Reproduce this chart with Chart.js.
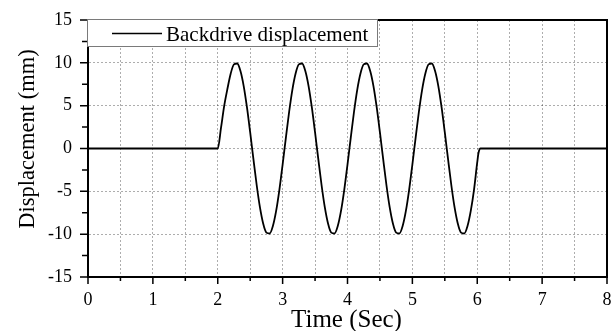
<!DOCTYPE html>
<html>
<head>
<meta charset="utf-8">
<title>Backdrive displacement</title>
<script src="https://cdn.jsdelivr.net/npm/chart.js@4.4.1/dist/chart.umd.min.js"></script>
<style>
  html, body { margin: 0; padding: 0; background: #fff; }
  #wrap { width: 613px; height: 331px; }
</style>
</head>
<body>
<div id="wrap"><canvas id="myChart" width="613" height="331"></canvas></div>
<script>
(function () {
    'use strict';

    // ── Data ───────────────────────────────────────────────────────────────────
    const TIME = [
        0,
        2.00, 2.05, 2.10, 2.15, 2.20, 2.25, 2.30, 2.35, 2.40, 2.45,
        2.50, 2.55, 2.60, 2.65, 2.70, 2.75, 2.80, 2.85, 2.90, 2.95,
        3.00, 3.05, 3.10, 3.15, 3.20, 3.25, 3.30, 3.35, 3.40, 3.45,
        3.50, 3.55, 3.60, 3.65, 3.70, 3.75, 3.80, 3.85, 3.90, 3.95,
        4.00, 4.05, 4.10, 4.15, 4.20, 4.25, 4.30, 4.35, 4.40, 4.45,
        4.50, 4.55, 4.60, 4.65, 4.70, 4.75, 4.80, 4.85, 4.90, 4.95,
        5.00, 5.05, 5.10, 5.15, 5.20, 5.25, 5.30, 5.35, 5.40, 5.45,
        5.50, 5.55, 5.60, 5.65, 5.70, 5.75, 5.80, 5.85, 5.90, 5.95,
        6.00, 6.02, 6.05,
        8
    ];
    const DISP = [
        0,
        0.00, 2.40, 5.00, 7.00, 8.76, 9.82, 9.92, 9.05, 7.29, 4.82,
        1.87, -1.25, -4.26, -6.85, -8.76, -9.82, -9.92, -9.05, -7.29, -4.82,
        -1.87, 1.25, 4.26, 6.85, 8.76, 9.82, 9.92, 9.05, 7.29, 4.82,
        1.87, -1.25, -4.26, -6.85, -8.76, -9.82, -9.92, -9.05, -7.29, -4.82,
        -1.87, 1.25, 4.26, 6.85, 8.76, 9.82, 9.92, 9.05, 7.29, 4.82,
        1.87, -1.25, -4.26, -6.85, -8.76, -9.82, -9.92, -9.05, -7.29, -4.82,
        -1.87, 1.25, 4.26, 6.85, 8.76, 9.82, 9.92, 9.05, 7.29, 4.82,
        1.87, -1.25, -4.26, -6.85, -8.76, -9.82, -9.92, -9.05, -7.29, -4.82,
        -1.60, -0.50, 0.00,
        0
    ];

    const X_TICKS = [0, 1, 2, 3, 4, 5, 6, 7, 8];
    const Y_TICKS = [-15, -10, -5, 0, 5, 10, 15];

    const SERIES_NAME = 'Backdrive displacement';
    const X_TITLE     = 'Time (Sec)';
    const Y_TITLE     = 'Displacement (mm)';

    // ── Styling ────────────────────────────────────────────────────────────────
    const FONT      = "'Liberation Serif', 'Times New Roman', serif";
    const GRID_CLR  = 'rgba(0, 0, 0, 0.32)';

    // ── Custom plugin: tick marks, frame, legend box and axis titles ───────────
    const decorPlugin = {
        id: 'decor',
        afterDraw(chart) {
            const { ctx, chartArea, scales } = chart;
            const { left, right, top, bottom } = chartArea;

            ctx.save();

            // tick marks (major longer than minor), outside the plot
            ctx.strokeStyle = '#000';
            ctx.lineWidth   = 1.5;
            ctx.beginPath();
            scales.x.ticks.forEach((t) => {
                const px  = scales.x.getPixelForValue(t.value);
                const len = X_TICKS.includes(t.value) ? 7 : 4;
                ctx.moveTo(px, bottom);
                ctx.lineTo(px, bottom + len);
            });
            scales.y.ticks.forEach((t) => {
                const py  = scales.y.getPixelForValue(t.value);
                const len = Y_TICKS.includes(t.value) ? 8 : 6;
                ctx.moveTo(left, py);
                ctx.lineTo(left - len, py);
            });
            ctx.stroke();

            // full black frame round the plot
            ctx.lineWidth = 2;
            ctx.setLineDash([]);
            ctx.strokeRect(left, top, right - left, bottom - top);

            // legend box in the top-left corner
            const bx = left - 0.5, by = top - 0.5, bw = 290, bh = 27;
            ctx.fillStyle = '#fff';
            ctx.fillRect(bx, by, bw, bh);
            ctx.strokeStyle = '#7a7a7a';
            ctx.lineWidth   = 1;
            ctx.strokeRect(bx, by, bw, bh);

            ctx.strokeStyle = '#000';
            ctx.lineWidth   = 1.6;
            ctx.beginPath();
            ctx.moveTo(left + 24, top + 13.5);
            ctx.lineTo(left + 74, top + 13.5);
            ctx.stroke();

            ctx.fillStyle    = '#000';
            ctx.font         = '21px ' + FONT;
            ctx.textAlign    = 'left';
            ctx.textBaseline = 'alphabetic';
            ctx.fillText(SERIES_NAME, left + 78, top + 20.5);

            // x axis title
            ctx.font      = '25px ' + FONT;
            ctx.textAlign = 'center';
            ctx.fillText(X_TITLE, (left + right) / 2 - 1, 327);

            // y axis title (rotated)
            ctx.translate(34, 139);
            ctx.rotate(-Math.PI / 2);
            ctx.font      = '22.5px ' + FONT;
            ctx.textAlign = 'center';
            ctx.fillText(Y_TITLE, 0, 0);

            ctx.restore();
        }
    };

    // ── Chart ──────────────────────────────────────────────────────────────────
    const points = TIME.map((t, i) => ({ x: t, y: DISP[i] }));

    const chartCtx = document.getElementById('myChart').getContext('2d');
    new Chart(chartCtx, {
        type: 'line',
        data: {
            datasets: [{
                label: SERIES_NAME,
                data: points,
                borderColor: '#000',
                borderWidth: 1.8,
                pointRadius: 0,
                fill: false,
                cubicInterpolationMode: 'monotone'
            }]
        },
        options: {
            responsive: false,
            animation: false,
            layout: { padding: { top: 20, right: 6, bottom: 0, left: 0 } },
            plugins: {
                legend:  { display: false },
                title:   { display: false },
                tooltip: { enabled: false }
            },
            scales: {
                x: {
                    type: 'linear',
                    min: 0,
                    max: 8,
                    afterFit: (s) => {
                        s.height = 54;
                        s.paddingLeft = 0;
                        s.paddingRight = 0;
                    },
                    ticks: {
                        stepSize: 0.5,
                        autoSkip: false,
                        maxRotation: 0,
                        padding: 12,
                        color: '#000',
                        font: { family: FONT, size: 18 },
                        callback: (v) => X_TICKS.includes(v) ? String(v) : ''
                    },
                    grid: {
                        color: (c) => (c.tick && c.tick.value > 0 && c.tick.value < 8) ? GRID_CLR : 'rgba(0,0,0,0)',
                        drawTicks: false,
                        lineWidth: 1
                    },
                    border: { color: '#000', width: 2, dash: [2, 2] }
                },
                y: {
                    min: -15,
                    max: 15,
                    afterFit: (s) => {
                        s.width = 88;
                        s.paddingTop = 0;
                        s.paddingBottom = 0;
                    },
                    ticks: {
                        stepSize: 2.5,
                        autoSkip: false,
                        padding: 16,
                        color: '#000',
                        font: { family: FONT, size: 18 },
                        callback: (v) => Y_TICKS.includes(v) ? String(v) : ''
                    },
                    grid: {
                        color: (c) => (c.tick && Y_TICKS.includes(c.tick.value) && Math.abs(c.tick.value) !== 15) ? GRID_CLR : 'rgba(0,0,0,0)',
                        drawTicks: false,
                        lineWidth: 1
                    },
                    border: { color: '#000', width: 2, dash: [2, 2] }
                }
            }
        },
        plugins: [decorPlugin]
    });

}());
</script>
</body>
</html>
